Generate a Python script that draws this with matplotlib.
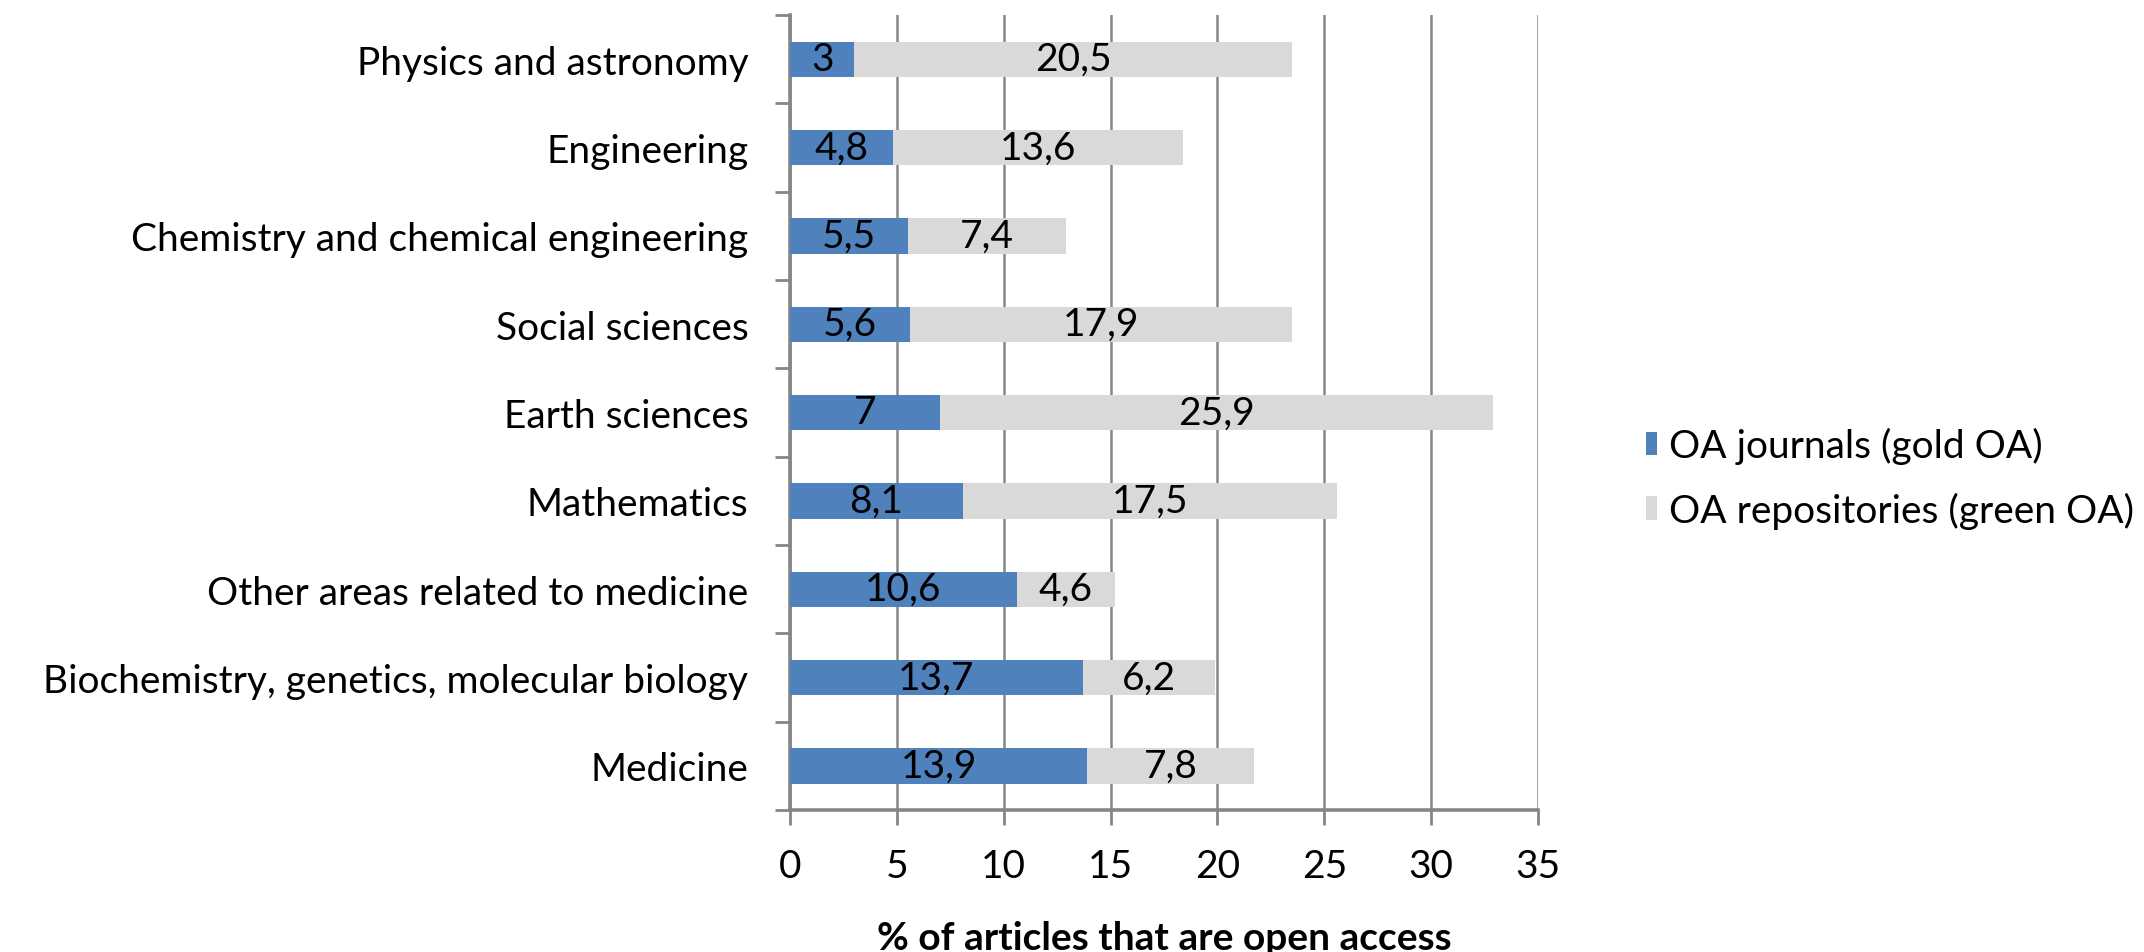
import numpy as np
import matplotlib
matplotlib.use("Agg")
import matplotlib.pyplot as plt

# data, top to bottom as shown
fields = [
    "Physics and astronomy",
    "Engineering",
    "Chemistry and chemical engineering",
    "Social sciences",
    "Earth sciences",
    "Mathematics",
    "Other areas related to medicine",
    "Biochemistry, genetics, molecular biology",
    "Medicine",
]
gold_oa = [3, 4.8, 5.5, 5.6, 7, 8.1, 10.6, 13.7, 13.9]
green_oa = [20.5, 13.6, 7.4, 17.9, 25.9, 17.5, 4.6, 6.2, 7.8]
series_names = ["OA journals (gold OA)", "OA repositories (green OA)"]
x_ticks = [0, 5, 10, 15, 20, 25, 30, 35]
x_label = "% of articles that are open access"

BLUE = "#4F81BD"
GRAY = "#D9D9D9"
AXIS = "#868686"

plt.rcParams["font.family"] = ["Lato", "DejaVu Sans"]
FS = 28


def fmt(v):
    s = f"{v:g}"
    return s.replace(".", ",")


fig = plt.figure(figsize=(21.44, 9.53), dpi=100)
ax = fig.add_axes([790 / 2144, 1 - 811 / 953, (1538 - 790) / 2144, (811 - 16) / 953])

y = np.arange(len(fields))
h = 0.4
b1 = ax.barh(y, gold_oa, height=h, color=BLUE, label=series_names[0], zorder=3)
b2 = ax.barh(y, green_oa, left=gold_oa, height=h, color=GRAY, label=series_names[1], zorder=3)

for i in range(len(fields)):
    ax.text(gold_oa[i] / 2, y[i], fmt(gold_oa[i]), ha="center", va="center",
            fontsize=FS, color="black", zorder=4)
    ax.text(gold_oa[i] + green_oa[i] / 2, y[i], fmt(green_oa[i]), ha="center",
            va="center", fontsize=FS, color="black", zorder=4)

ax.set_xlim(0, 35)
ax.set_ylim(len(fields) - 0.5, -0.5)
ax.set_xticks(x_ticks)
ax.set_xticklabels([str(t) for t in x_ticks], fontsize=FS)
ax.tick_params(axis="x", length=11, width=2, color=AXIS, pad=16)

# category boundaries carry tick marks, labels sit at category centres
ax.set_yticks(np.arange(len(fields) + 1) - 0.5)
ax.set_yticklabels([])
ax.set_yticks(y, minor=True)
ax.set_yticklabels(fields, minor=True, fontsize=FS)
ax.tick_params(axis="y", which="major", length=11, width=2, color=AXIS)
ax.tick_params(axis="y", which="minor", length=0, pad=30)

ax.grid(axis="x", color=AXIS, linewidth=1.8, zorder=0)
for s in ["top", "right"]:
    ax.spines[s].set_visible(False)
for s in ["left", "bottom"]:
    ax.spines[s].set_color(AXIS)
    ax.spines[s].set_linewidth(2.6)

ax.set_xlabel(x_label, fontsize=FS, fontweight="bold", labelpad=26)

fig.legend(handles=[b1, b2], loc="center left", bbox_to_anchor=(1630 / 2144, 1 - 479 / 953),
           frameon=False, fontsize=FS, handlelength=0.3, handleheight=0.55,
           handletextpad=0.3, labelspacing=0.7, borderaxespad=0)

fig.savefig("out.png", dpi=100)
